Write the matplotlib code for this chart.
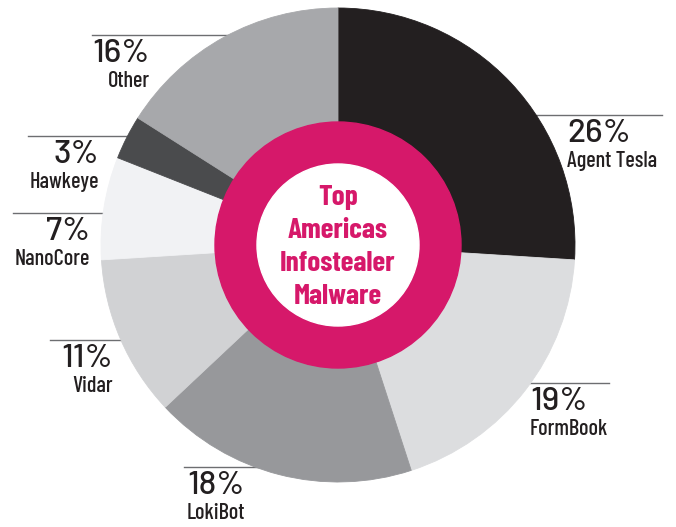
import matplotlib
matplotlib.use("Agg")
import matplotlib.pyplot as plt
from matplotlib.patches import Circle

# data
names = ["Agent Tesla", "FormBook", "LokiBot", "Vidar", "NanoCore", "Hawkeye", "Other"]
shares = [26, 19, 18, 11, 7, 3, 16]
colors = ["#231f20", "#dcdddf", "#97989b", "#d1d2d4", "#f1f2f4", "#4a4b4d", "#a7a8ab"]
center_title = ["Top", "Americas", "Infostealer", "Malware"]

# label layout (pixels from top left): line x0, line x1, line y, text x, align
label_pos = {
    "Agent Tesla": (535, 662, 115, 567, "left"),
    "FormBook": (530, 609, 383, 530, "left"),
    "LokiBot": (184, 262, 467, 187, "left"),
    "Vidar": (50, 125, 340, 113, "right"),
    "NanoCore": (13, 106, 213, 90, "right"),
    "Hawkeye": (28, 132, 136, 99, "right"),
    "Other": (92, 232, 35, 150, "right"),
}

W, H = 676, 527
PINK = "#d6186a"
INK = "#231f20"
pct_font = ["Barlow", "DejaVu Sans"]
name_font = ["Barlow Condensed", "DejaVu Sans"]

fig = plt.figure(figsize=(W / 100, H / 100), dpi=100)
ax = fig.add_axes([0, 0, 1, 1])

cx, cy, R = 338, H - 245, 237
wedges, _ = ax.pie(shares, colors=colors, startangle=90, counterclock=False,
                   center=(cx, cy), radius=R,
                   wedgeprops=dict(linewidth=0.6, zorder=2))
for w, c in zip(wedges, colors):
    w.set_edgecolor(c)

ax.add_patch(Circle((cx, cy), 123, color=PINK, zorder=3))
ax.add_patch(Circle((cx, cy), 81, color="white", zorder=4))

for i, line in enumerate(center_title):
    ax.text(cx, H - (205 + i * 33), line, ha="center", va="baseline",
            fontsize=21, fontweight="bold", family=name_font,
            color=PINK, zorder=5)

for name, pct in zip(names, shares):
    x0, x1, ly, tx, ha = label_pos[name]
    ax.plot([x0, x1], [H - ly, H - ly], color="#6d6e71", lw=1.0, zorder=1)
    ax.text(tx, H - ly - 27, f"{pct}%", ha=ha, va="baseline",
            fontsize=24, fontweight="medium", family=pct_font, color=INK)
    ax.text(tx, H - ly - 52, name, ha=ha, va="baseline",
            fontsize=16, fontweight="medium", family=name_font, color=INK)

ax.set_xlim(0, W)
ax.set_ylim(0, H)
ax.set_aspect("auto")
ax.axis("off")
fig.savefig("out.png", dpi=100)
